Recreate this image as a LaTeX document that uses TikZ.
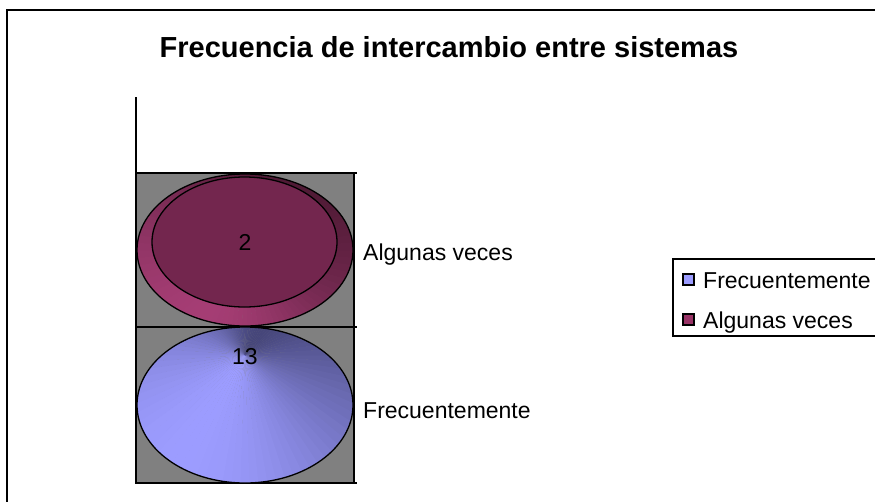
\documentclass[tikz,border=0pt]{standalone}
\usepackage{fontspec}
\setmainfont{Liberation Sans}
\definecolor{plotgray}{HTML}{808080}
\definecolor{bluelight}{HTML}{9C9CFF}
\definecolor{bluedark}{HTML}{46467A}
\definecolor{maglight}{HTML}{A53D74}
\definecolor{magdark}{HTML}{4F1A35}
\definecolor{magtop}{HTML}{73264E}
\definecolor{legmag}{HTML}{993366}
\begin{document}
\begin{tikzpicture}[x=1pt,y=-1pt,
  lbl/.style={font=\fontsize{23}{27}\selectfont, inner sep=0pt, anchor=base west},
  num/.style={font=\fontsize{23}{27}\selectfont, inner sep=0pt, anchor=base},
  frameline/.style={line width=2pt, draw=black},
  edge/.style={line width=1.3pt, draw=black}]
\useasboundingbox (0,0) rectangle (875,501);
\clip (0,0) rectangle (875,501);
\fill[white] (0,0) rectangle (875,501);
% outer frame
\draw[frameline] (7,10) rectangle (890,520);
% title
\node[font=\bfseries\fontsize{29}{34}\selectfont, inner sep=0pt, anchor=base] (title) at (449,57) {Frecuencia de intercambio entre sistemas};
% plot area
\fill[plotgray] (136,173) rectangle (354,483);
\draw[line width=1.5pt] (136,97) -- (136,483);
\draw[line width=1.2pt] (354,173) -- (354,483);
\draw[frameline] (135,173) -- (357,173);
\draw[line width=1.5pt] (135,327) -- (357,327);
\draw[frameline] (135,483) -- (357,483);
% blue disk (Frecuentemente)
\begin{scope}
  \clip (245,405) ellipse [x radius=108, y radius=78];
  \foreach \a in {0,4,...,356} {
    \pgfmathsetmacro\t{50+50*cos(\a+2-122)}
    \colorlet{wc}{bluelight!\t!bluedark}
    \fill[wc] (245,355) -- +(\a:320) -- +(\a+4.3:320) -- cycle;
  }
\end{scope}
\draw[edge] (245,405) ellipse [x radius=108, y radius=78];
% magenta disk (Algunas veces)
\begin{scope}
  \clip (245,250) ellipse [x radius=108, y radius=76];
  \foreach \a in {0,4,...,356} {
    \pgfmathsetmacro\t{50+50*cos(\a+2-125)}
    \colorlet{wc}{maglight!\t!magdark}
    \fill[wc] (245,250) -- +(\a:320) -- +(\a+4.3:320) -- cycle;
  }
\end{scope}
\draw[edge] (245,250) ellipse [x radius=108, y radius=76];
\path[edge, fill=magtop] (244.5,242) ellipse [x radius=92.5, y radius=65];
% values
\node[num] (n2) at (245,250) {2};
\node[num] (n13) at (245,364) {13};
% category labels
\node[lbl] (lblA) at (363,260) {Algunas veces};
\node[lbl] (lblF) at (363,418) {Frecuentemente};
% legend
\draw[line width=1.3pt, fill=white] (673,259) rectangle (895,336);
\filldraw[fill=bluelight, line width=1.2pt] (683,274) rectangle (694,285);
\node[lbl] (legF) at (703,288) {Frecuentemente};
\filldraw[fill=legmag, line width=1.2pt] (683,314) rectangle (694,325);
\node[lbl] (legA) at (703,328) {Algunas veces};
\end{tikzpicture}
\end{document}
